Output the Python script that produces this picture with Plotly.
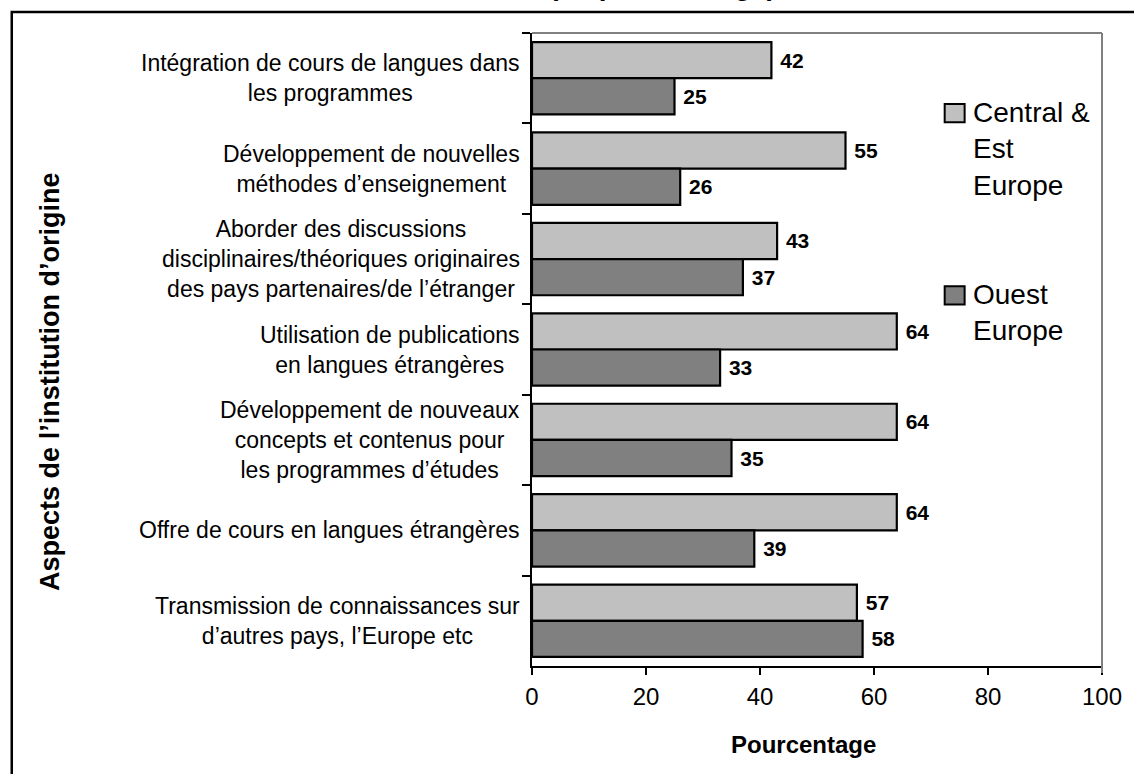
import plotly.graph_objects as go

categories = [
    "Intégration de cours de langues dans<br>les programmes",
    "Développement de nouvelles<br>méthodes d’enseignement",
    "Aborder des discussions<br>disciplinaires/théoriques originaires<br>des pays partenaires/de l’étranger",
    "Utilisation de publications<br>en langues étrangères",
    "Développement de nouveaux<br>concepts et contenus pour<br>les programmes d’études",
    "Offre de cours en langues étrangères",
    "Transmission de connaissances sur<br>d’autres pays, l’Europe etc",
]
central_est = [42, 55, 43, 64, 64, 64, 57]
ouest = [25, 26, 37, 33, 35, 39, 58]
x_ticks = [0, 20, 40, 60, 80, 100]

FONT = "Liberation Sans, Arial, sans-serif"
LIGHT = "#c0c0c0"
DARK = "#808080"

fig = go.Figure()
for name, vals, col in [("Central & Est Europe", central_est, LIGHT), ("Ouest Europe", ouest, DARK)]:
    fig.add_trace(go.Bar(
        y=categories, x=vals, orientation="h", name=name,
        marker=dict(color=col, line=dict(color="black", width=2.2)),
        text=vals, texttemplate=" %{text}", textposition="outside",
        cliponaxis=False, constraintext="none",
        textfont=dict(family=FONT, size=21, color="black", weight="bold"),
    ))

# category labels, centred lines, right aligned to the axis
for c in categories:
    fig.add_annotation(x=0, xref="paper", y=c, yref="y", text=c, showarrow=False,
                       xanchor="right", align="center", xshift=-10,
                       font=dict(family=FONT, size=23, color="black"))

# axis titles and the cropped chart title
fig.add_annotation(x=-0.846, xref="paper", y=0.45, yref="paper", xanchor="center", yanchor="middle",
                   text="<b>Aspects de l’institution d’origine</b>",
                   textangle=-90, showarrow=False, font=dict(family=FONT, size=27, color="black"))
fig.add_annotation(x=0.476, xref="paper", y=-0.149, yref="paper", xanchor="center",
                   text="<b>Pourcentage</b>",
                   showarrow=False, font=dict(family=FONT, size=24, color="black"))
fig.add_annotation(x=0.229, xref="paper", y=1.047, yref="paper", xanchor="center", yanchor="bottom",
                   text="<b>(en pourcentage)</b>", showarrow=False,
                   font=dict(family=FONT, size=28, color="black"))

# manual legend
legend_items = [("Central &<br>Est<br>Europe", LIGHT, 0.888), ("Ouest<br>Europe", DARK, 0.600)]
for label, col, y0 in legend_items:
    fig.add_shape(type="rect", xref="paper", yref="paper", x0=0.724, x1=0.759,
                  y0=y0 - 0.029, y1=y0, line=dict(color="black", width=2), fillcolor=col)
    fig.add_annotation(x=0.771, xref="paper", y=y0 + 0.014, yref="paper", text=label,
                       xanchor="left", yanchor="top", align="left", showarrow=False,
                       font=dict(family=FONT, size=28, color="black"))

# top and right frame of the plot area, outer border
fig.add_shape(type="line", xref="paper", yref="paper", x0=0, x1=1, y0=1, y1=1,
              line=dict(color="#808080", width=2))
fig.add_shape(type="line", xref="paper", yref="paper", x0=1, x1=1, y0=-0.011, y1=1,
              line=dict(color="#808080", width=2))
fig.add_shape(type="rect", xref="paper", yref="paper", x0=-0.9127, x1=1.2, y0=-0.3, y1=1.0332,
              line=dict(color="black", width=2.5), fillcolor="rgba(0,0,0,0)")

fig.update_layout(
    width=1134, height=774,
    margin=dict(l=532, r=29, t=33, b=108),
    paper_bgcolor="white", plot_bgcolor="white",
    barmode="group", bargap=0.2, bargroupgap=0,
    showlegend=False,
    font=dict(family=FONT, color="black"),
    xaxis=dict(range=[0, 100], tickvals=x_ticks, showgrid=False, zeroline=False,
               showline=True, linecolor="black", linewidth=1.5,
               ticks="outside", ticklen=7, tickcolor="black", tickwidth=1.5,
               ticklabelstandoff=1, tickfont=dict(family=FONT, size=24, color="black")),
    yaxis=dict(autorange="reversed", showticklabels=False, showgrid=False, zeroline=False,
               showline=True, linecolor="black", linewidth=1.5,
               ticks="outside", ticklen=8, tickcolor="black", tickwidth=1.5,
               tickson="boundaries"),
)

fig.write_html("out.html", config={"displayModeBar": False},
               post_script="document.body.style.margin='0';document.body.style.overflow='hidden';")
